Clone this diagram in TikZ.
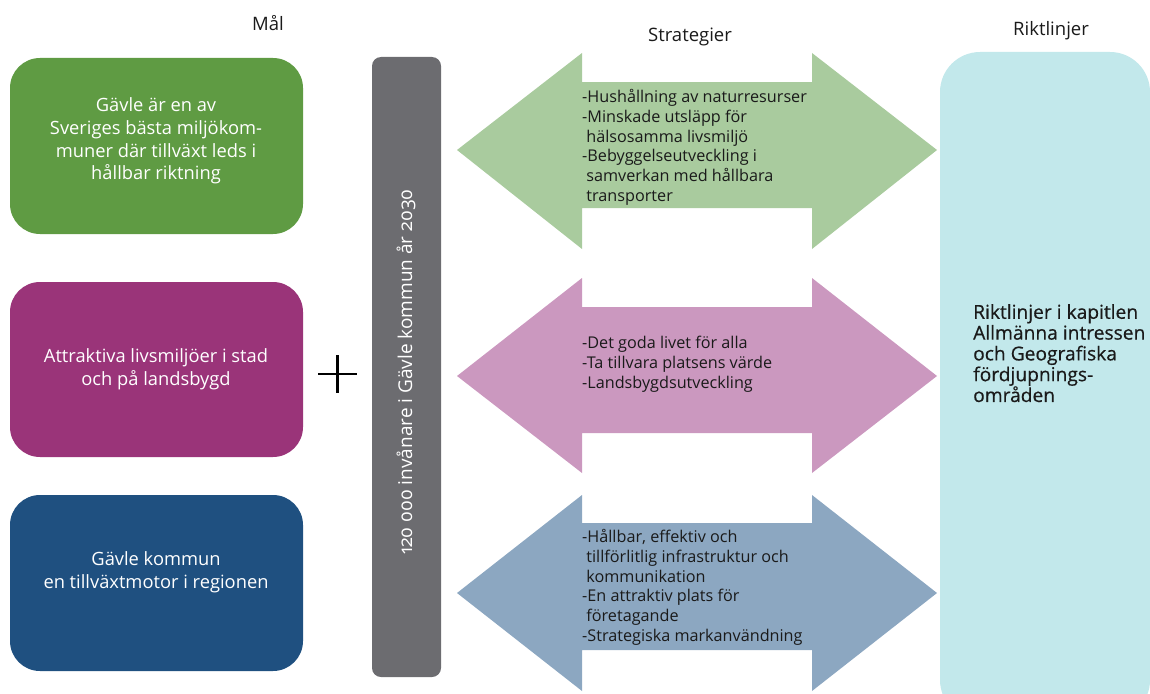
\documentclass[tikz,border=0pt]{standalone}
\usepackage{fontspec}
\setmainfont{Open Sans}
\newfontfamily\barfont[Numbers=OldStyle]{Open Sans}
\newfontfamily\medfont[FakeBold=0.5]{Open Sans}
\definecolor{gbox}{HTML}{5F9B43}
\definecolor{pbox}{HTML}{9A3479}
\definecolor{bbox}{HTML}{1F5080}
\definecolor{garrow}{HTML}{A9CB9E}
\definecolor{parrow}{HTML}{CB98BF}
\definecolor{barrow}{HTML}{8CA7C1}
\definecolor{graybar}{HTML}{6C6C70}
\definecolor{cyanbox}{HTML}{C2E8EB}
\definecolor{txt}{HTML}{1A1A1A}
\begin{document}
\begin{tikzpicture}[x=1pt,y=-1pt,
  goal/.style={rounded corners=30pt},
  goaltext/.style={text=white,align=center,font=\fontsize{18.3}{22.8}\selectfont},
  strattext/.style={text=txt,align=left,anchor=north west,inner sep=0pt,font=\fontsize{16.2}{19.8}\selectfont},
  header/.style={text=txt,font=\fontsize{18.5}{20}\selectfont,inner sep=0pt}]
\useasboundingbox (0,0) rectangle (1150,693);
% headers
\node[header] (hmal) at (268,23) {Mål};
\node[header] (hstrat) at (690,37) {Strategier};
\node[header] (hrikt) at (1051,31) {Riktlinjer};
% goal boxes
\fill[gbox,goal] (10,58) rectangle (303,234);
\fill[pbox,goal] (10,282) rectangle (303,457);
\fill[bbox,goal] (10,495) rectangle (303,671);
\node[goaltext] (g1) at (156,141) {Gävle är en av\\Sveriges bästa miljökom-\\muner där tillväxt leds i\\hållbar riktning};
\node[goaltext] (g2) at (156,369) {Attraktiva livsmiljöer i stad\\och på landsbygd};
\node[goaltext] (g3) at (156,572) {Gävle kommun\\en tillväxtmotor i regionen};
% plus
\draw[line width=2.5pt,black] (318,374) -- (357,374) (337.5,355) -- (337.5,393);
% gray bar
\fill[graybar,rounded corners=9pt] (372,57) rectangle (441,677);
\node[rotate=90,text=white,font=\barfont\fontsize{19}{20}\selectfont] (bar) at (406,372) {120 000 invånare i Gävle kommun år 2030};
% cyan box
\fill[cyanbox,rounded corners=40pt] (940,52) rectangle (1150,720);
\node[text=txt,align=left,anchor=north west,inner sep=0pt,font=\medfont\fontsize{19.2}{20.8}\selectfont] (rikt) at (973,304) {Riktlinjer i kapitlen\\Allmänna intressen\\och Geografiska\\fördjupnings-\\områden};
% arrows
\fill[garrow] (457,150) -- (582,53) -- (582,82) -- (812,82) -- (812,53) -- (937,150) -- (812,249) -- (812,208) -- (582,208) -- (582,249) -- cycle;
\fill[parrow] (457,376) -- (582,278) -- (582,307) -- (812,307) -- (812,278) -- (937,376) -- (812,473) -- (812,433) -- (582,433) -- (582,473) -- cycle;
\fill[barrow] (457,593) -- (582,495) -- (582,523) -- (812,523) -- (812,495) -- (937,593) -- (812,691) -- (812,650) -- (582,650) -- (582,691) -- cycle;
\node[strattext] (s1) at (582,89) {-Hushållning av naturresurser\\-Minskade utsläpp för\\\ hälsosamma livsmiljö\\-Bebyggelseutveckling i\\\ samverkan med hållbara\\\ transporter};
\node[strattext] (s2) at (582,336) {-Det goda livet för alla\\-Ta tillvara platsens värde\\-Landsbygdsutveckling};
\node[strattext] (s3) at (582,529) {-Hållbar, effektiv och\\\ tillförlitlig infrastruktur och\\\ kommunikation\\-En attraktiv plats för\\\ företagande\\-Strategiska markanvändning};
\end{tikzpicture}
\end{document}
